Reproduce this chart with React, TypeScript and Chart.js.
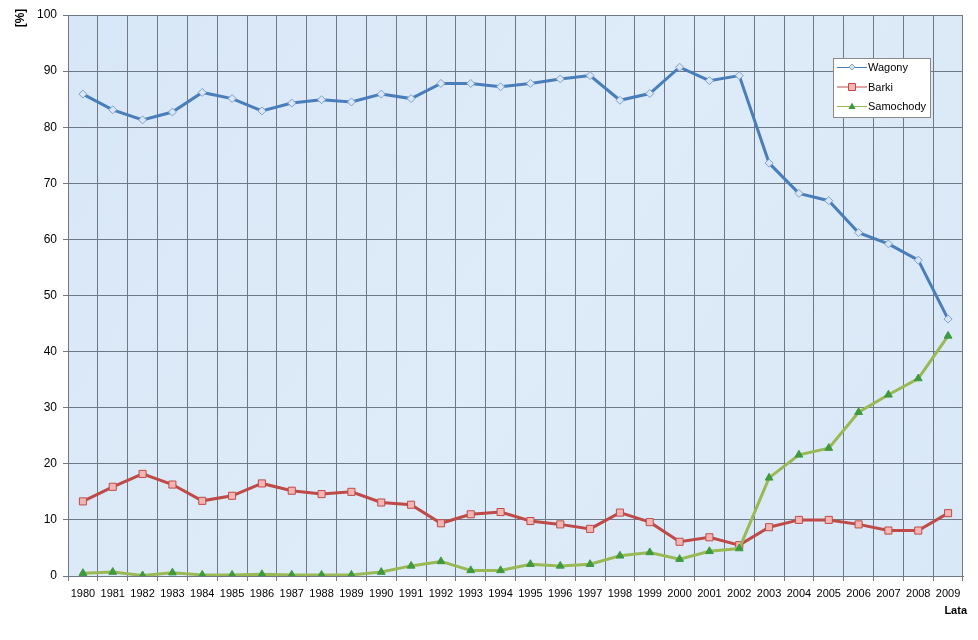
import React, { useEffect, useRef } from "react";
import { Chart, registerables } from "chart.js";

Chart.register(...registerables);

const years = ["1980","1981","1982","1983","1984","1985","1986","1987","1988","1989","1990","1991","1992","1993","1994","1995","1996","1997","1998","1999","2000","2001","2002","2003","2004","2005","2006","2007","2008","2009"];
const wagony = [85.9,83.1,81.3,82.7,86.2,85.1,82.9,84.3,84.9,84.5,85.9,85.1,87.8,87.8,87.2,87.8,88.6,89.2,84.8,86.0,90.7,88.3,89.2,73.6,68.2,66.9,61.2,59.2,56.3,45.8];
const barki = [13.3,15.9,18.2,16.3,13.4,14.3,16.5,15.2,14.6,15.0,13.1,12.7,9.4,11.0,11.4,9.8,9.2,8.4,11.3,9.6,6.1,6.9,5.5,8.7,10.0,10.0,9.2,8.1,8.1,11.2];
const samochody = [0.5,0.7,0.1,0.6,0.2,0.2,0.3,0.2,0.2,0.2,0.7,1.8,2.6,1.0,1.0,2.1,1.8,2.1,3.6,4.2,3.0,4.4,4.9,17.5,21.6,22.8,29.2,32.3,35.2,42.8];
const yTicks = [0,10,20,30,40,50,60,70,80,90,100];

const FONT = "'Liberation Sans', Arial, sans-serif";

const bgPlugin = {
  id: "bgPlugin",
  beforeDraw(chart: any) {
    const { ctx, chartArea: a } = chart;
    ctx.save();
    ctx.fillStyle = "#ffffff";
    ctx.fillRect(0, 0, chart.width, chart.height);
    const g = ctx.createLinearGradient(a.left, a.top, a.right, a.bottom);
    g.addColorStop(0, "#d8e7f7");
    g.addColorStop(0.5, "#deebf8");
    g.addColorStop(1, "#d9e8f7");
    ctx.fillStyle = g;
    ctx.fillRect(a.left, a.top, a.right - a.left, a.bottom - a.top);
    ctx.restore();
  },
};

const textPlugin = {
  id: "textPlugin",
  afterDraw(chart: any) {
    const { ctx } = chart;
    ctx.save();
    ctx.fillStyle = "#000";
    ctx.font = `bold 12px ${FONT}`;
    ctx.textAlign = "center";
    ctx.textBaseline = "middle";
    ctx.translate(21, 18);
    ctx.rotate(-Math.PI / 2);
    ctx.fillText("[%]", 0, 0);
    ctx.restore();

    ctx.save();
    ctx.fillStyle = "#000";
    ctx.font = `bold 11px ${FONT}`;
    ctx.textAlign = "right";
    ctx.textBaseline = "middle";
    ctx.fillText("Lata", 967, 611);
    ctx.restore();

    // legend
    const bx = 833, by = 58, bw = 97, bh = 59;
    ctx.save();
    ctx.fillStyle = "#ffffff";
    ctx.fillRect(bx, by, bw, bh);
    ctx.strokeStyle = "#8a8a8a";
    ctx.lineWidth = 1;
    ctx.strokeRect(bx + 0.5, by + 0.5, bw, bh);
    ctx.font = `11px ${FONT}`;
    ctx.textBaseline = "middle";
    ctx.textAlign = "left";
    chart.data.datasets.forEach((ds: any, i: number) => {
      const y = by + 9 + i * 19.5;
      ctx.strokeStyle = ds.borderColor;
      ctx.lineWidth = 1;
      ctx.beginPath();
      ctx.moveTo(bx + 4, y + 0.5);
      ctx.lineTo(bx + 34, y + 0.5);
      ctx.stroke();
      const cx = bx + 19;
      ctx.fillStyle = ds.pointBackgroundColor;
      ctx.strokeStyle = ds.pointBorderColor;
      ctx.beginPath();
      if (ds.pointStyle === "rectRot") {
        ctx.moveTo(cx, y - 3); ctx.lineTo(cx + 3, y); ctx.lineTo(cx, y + 3); ctx.lineTo(cx - 3, y); ctx.closePath();
        ctx.fill(); ctx.stroke();
      } else if (ds.pointStyle === "rect") {
        ctx.rect(cx - 3.5, y - 3, 7, 7);
        ctx.fill(); ctx.stroke();
      } else {
        ctx.moveTo(cx, y - 3.5); ctx.lineTo(cx + 3.5, y + 3); ctx.lineTo(cx - 3.5, y + 3); ctx.closePath();
        ctx.fill();
      }
      ctx.fillStyle = "#000";
      ctx.fillText(ds.label, bx + 35, y + 1);
    });
    ctx.restore();
  },
};

export default function App() {
  const ref = useRef<HTMLCanvasElement | null>(null);
  useEffect(() => {
    document.body.style.margin = "0";
    const canvas = ref.current!;
    const chart = new Chart(canvas, {
      type: "line",
      data: {
        labels: years,
        datasets: [
          {
            label: "Wagony",
            data: wagony,
            order: 2,
            borderColor: "#4a7ebb",
            borderWidth: 3,
            pointStyle: "rectRot",
            pointRadius: 4,
            pointBackgroundColor: "#dbe6f4",
            pointBorderColor: "#7fa3cf",
            pointBorderWidth: 1,
            tension: 0,
          },
          {
            label: "Barki",
            data: barki,
            order: 1,
            borderColor: "#be4b48",
            borderWidth: 3,
            pointStyle: "rect",
            pointRadius: 5,
            pointBackgroundColor: "#f4b6b4",
            pointBorderColor: "#be4b48",
            pointBorderWidth: 1,
            tension: 0,
          },
          {
            label: "Samochody",
            data: samochody,
            order: 0,
            borderColor: "#98b954",
            borderWidth: 3,
            pointStyle: "triangle",
            pointRadius: 4.5,
            pointBackgroundColor: "#3f9a3f",
            pointBorderColor: "#3f9a3f",
            pointBorderWidth: 1,
            tension: 0,
          },
        ],
      },
      options: {
        animation: false,
        responsive: false,
        maintainAspectRatio: false,
        layout: { padding: { top: 15, right: 15, left: 0, bottom: 0 } },
        plugins: { legend: { display: false }, tooltip: { enabled: false } },
        scales: {
          x: {
            type: "category",
            offset: true,
            grid: { offset: true, color: "#6f7885", lineWidth: 1, tickLength: 5, drawTicks: true },
            border: { color: "#6f7885" },
            ticks: { color: "#000", font: { family: FONT, size: 11 }, padding: 6, maxRotation: 0, autoSkip: false },
            afterFit: (s: any) => { s.height = 64; },
          },
          y: {
            min: 0,
            max: 100,
            afterBuildTicks: (s: any) => { s.ticks = yTicks.map((v) => ({ value: v })); },
            grid: { color: "#6f7885", lineWidth: 1, tickLength: 5 },
            border: { color: "#6f7885" },
            ticks: { color: "#000", font: { family: FONT, size: 12 }, padding: 6 },
            afterFit: (s: any) => { s.width = 68; },
          },
        },
      },
      plugins: [bgPlugin, textPlugin],
    } as any);
    return () => chart.destroy();
  }, []);
  return <canvas ref={ref} width={978} height={640} style={{ display: "block" }} />;
}
